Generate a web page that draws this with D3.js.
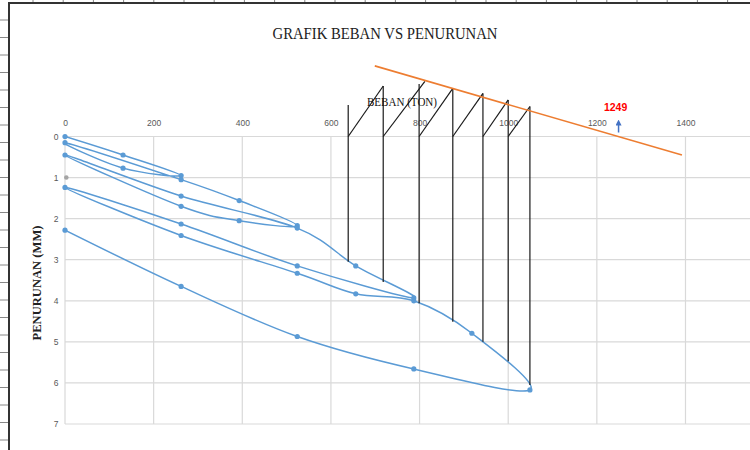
<!DOCTYPE html>
<html>
<head>
<meta charset="utf-8">
<script src="https://cdn.jsdelivr.net/npm/d3@7"></script>
<style>
  body { margin: 0; background: #fff; }
  svg { display: block; }
</style>
</head>
<body>
<svg id="svg" width="750" height="450"></svg>
<script>
// load test data (ton vs mm), one series through all 4 cycles
var loads = [0,131,262,131,0, 262,393,524,393,262,0, 262,524,656,787,524,262,0, 262,524,656,787,918,1049,787,524,262,0];
var settlements = [0,0.45,0.95,0.77,0.15, 1.05,1.56,2.17,2.05,1.70,0.45, 1.45,2.23,3.15,3.93,3.15,2.13,1.24, 2.41,3.33,3.83,4.00,4.79,6.17,5.66,4.87,3.65,2.28];

// stray grey point
var greyLoads = [3];
var greySettle = [1.0];

// construction lines (black)
var vertLoads = [639,718,799,875,943,1000,1049];
var vertBottoms = [3.05,3.54,4.06,4.51,5.0,5.47,6.05];
var vertTops = [-0.77,-1.23,-1.28,-1.17,-1.05,-0.89,-0.73];
var diagEndLoads = [718,812,875,943,1000,1049];
var diagEndSettle = [-1.23,-1.34,-1.17,-1.05,-0.89,-0.73];

// orange tangent line and result
var tangentLoads = [699,1392];
var tangentSettle = [-1.72,0.45];
var ultimateLoad = 1249;

var xTicks = [0,200,400,600,800,1000,1200,1400,1600];
var xTickLabels = [0,200,400,600,800,1000,1200,1400];
var yTicks = [0,1,2,3,4,5,6,7];

var titleText = "GRAFIK BEBAN VS PENURUNAN";
var xTitle = "BEBAN (TON)";
var yTitle = "PENURUNAN (MM)";

var svg = d3.select("#svg");

// spreadsheet border bits
var frame = svg.append("g");
frame.selectAll("line.colTick")
    .data(d3.range(33, 750, 30.2))
    .enter().append("line")
    .attr("x1", d => d).attr("x2", d => d)
    .attr("y1", 0).attr("y2", 3)
    .attr("stroke", "#888").attr("stroke-width", 1);
frame.selectAll("line.rowTick")
    .data(d3.range(20, 450, 17.5))
    .enter().append("line")
    .attr("x1", 0).attr("x2", 8)
    .attr("y1", d => d).attr("y2", d => d)
    .attr("stroke", "#888").attr("stroke-width", 1);
frame.append("line")
    .attr("x1", 8).attr("x2", 750).attr("y1", 3).attr("y2", 3)
    .attr("stroke", "#333").attr("stroke-width", 2);
frame.append("line")
    .attr("x1", 9).attr("x2", 9).attr("y1", 3).attr("y2", 450)
    .attr("stroke", "#333").attr("stroke-width", 2);

var x = d3.scaleLinear().domain([0,1600]).range([65, 65 + 1600*0.4432]);
var y = d3.scaleLinear().domain([0,7]).range([136.5, 424]);

// gridlines
var grid = svg.append("g");
grid.selectAll("line.h")
    .data(yTicks)
    .enter().append("line")
    .attr("x1", x(0)).attr("x2", x(1600))
    .attr("y1", d => y(d)).attr("y2", d => y(d))
    .attr("stroke", "#d9d9d9").attr("stroke-width", 1.2);
grid.selectAll("line.v")
    .data(xTicks)
    .enter().append("line")
    .attr("x1", d => x(d)).attr("x2", d => x(d))
    .attr("y1", y(0)).attr("y2", y(7))
    .attr("stroke", "#d9d9d9").attr("stroke-width", 1.2);

// axes labels
var xAxis = svg.append("g")
    .attr("transform", "translate(0," + y(0) + ")")
    .call(d3.axisTop(x).tickValues(xTickLabels).tickFormat(d3.format("d")).tickSize(0).tickPadding(10.5));
var yAxis = svg.append("g")
    .attr("transform", "translate(" + x(0) + ",0)")
    .call(d3.axisLeft(y).tickValues(yTicks).tickFormat(d3.format("d")).tickSize(0).tickPadding(6.5));
[xAxis, yAxis].forEach(function(a){
    a.select(".domain").remove();
    a.selectAll("text")
        .style("font-family", "'Liberation Sans', Arial, sans-serif")
        .style("font-size", "8.5px")
        .style("fill", "#595959");
});

// data series
svg.append("clipPath").attr("id", "plotClip")
    .append("rect")
    .attr("x", x(0)).attr("y", y(0) - 4)
    .attr("width", x(1600) - x(0)).attr("height", y(7) - y(0) + 4);

var pts = loads.map((d, i) => [d, settlements[i]]);
var line = d3.line()
    .x(d => x(d[0]))
    .y(d => y(d[1]))
    .curve(d3.curveCardinal.tension(0));

svg.append("path")
    .datum(pts)
    .attr("clip-path", "url(#plotClip)")
    .attr("d", line)
    .attr("fill", "none")
    .attr("stroke", "#5b9bd5")
    .attr("stroke-width", 1.5);

svg.selectAll("circle.pt")
    .data(pts)
    .enter().append("circle")
    .attr("cx", d => x(d[0]))
    .attr("cy", d => y(d[1]))
    .attr("r", 2.6)
    .attr("fill", "#5b9bd5");

svg.selectAll("circle.grey")
    .data(greyLoads)
    .enter().append("circle")
    .attr("cx", d => x(d))
    .attr("cy", (d, i) => y(greySettle[i]))
    .attr("r", 2.3)
    .attr("fill", "#a5a5a5");

// black construction lines
var cons = svg.append("g").attr("stroke", "#1a1a1a").attr("stroke-width", 1.2);
cons.selectAll("line.vert")
    .data(vertLoads)
    .enter().append("line")
    .attr("x1", d => x(d)).attr("x2", d => x(d))
    .attr("y1", (d, i) => y(vertTops[i]))
    .attr("y2", (d, i) => y(vertBottoms[i]));
cons.selectAll("line.diag")
    .data(diagEndLoads)
    .enter().append("line")
    .attr("x1", (d, i) => x(vertLoads[i])).attr("y1", y(0))
    .attr("x2", d => x(d))
    .attr("y2", (d, i) => y(diagEndSettle[i]));

// orange line
svg.append("line")
    .attr("x1", x(tangentLoads[0])).attr("y1", y(tangentSettle[0]))
    .attr("x2", x(tangentLoads[1])).attr("y2", y(tangentSettle[1]))
    .attr("stroke", "#ed7d31").attr("stroke-width", 1.6);

// arrow + label
svg.append("defs").append("marker")
    .attr("id", "arrowHead")
    .attr("viewBox", "0 0 10 10")
    .attr("refX", 5).attr("refY", 5)
    .attr("markerWidth", 4).attr("markerHeight", 4)
    .attr("orient", "auto")
    .append("path").attr("d", "M0,0 L10,5 L0,10 z").attr("fill", "#4472c4");
svg.append("line")
    .attr("x1", x(ultimateLoad)).attr("x2", x(ultimateLoad))
    .attr("y1", y(0) - 4).attr("y2", y(0) - 14)
    .attr("stroke", "#4472c4").attr("stroke-width", 1.5)
    .attr("marker-end", "url(#arrowHead)");
svg.append("text")
    .attr("x", x(ultimateLoad) - 3).attr("y", 111)
    .attr("text-anchor", "middle")
    .style("font-family", "'Liberation Sans Narrow', 'Liberation Sans', Arial, sans-serif")
    .style("font-size", "10.5px")
    .style("font-weight", "bold")
    .style("fill", "#ff0000")
    .text(ultimateLoad);

// titles
svg.append("text")
    .attr("x", 385).attr("y", 39)
    .attr("text-anchor", "middle")
    .attr("textLength", 225).attr("lengthAdjust", "spacingAndGlyphs")
    .style("font-family", "'Liberation Serif', 'Times New Roman', serif")
    .style("font-size", "16px")
    .style("fill", "#222")
    .text(titleText);

svg.append("text")
    .attr("x", 402).attr("y", 106)
    .attr("text-anchor", "middle")
    .attr("textLength", 70).attr("lengthAdjust", "spacingAndGlyphs")
    .style("font-family", "'Liberation Serif', 'Times New Roman', serif")
    .style("font-size", "12px")
    .style("fill", "#111")
    .text(xTitle);

svg.append("text")
    .attr("transform", "translate(41,283) rotate(-90)")
    .attr("text-anchor", "middle")
    .attr("textLength", 115).attr("lengthAdjust", "spacingAndGlyphs")
    .style("font-family", "'Liberation Serif', 'Times New Roman', serif")
    .style("font-size", "12px")
    .style("font-weight", "bold")
    .style("fill", "#222")
    .text(yTitle);
</script>
</body>
</html>
